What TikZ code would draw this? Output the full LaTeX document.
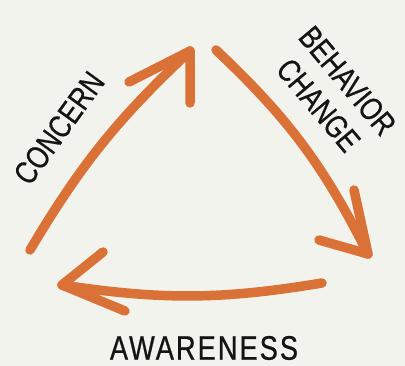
\documentclass[tikz,border=0pt]{standalone}
\usepackage{fontspec}
\newfontfamily\handfont[FakeStretch=0.8,FakeBold=0.6]{Liberation Sans}
\newfontfamily\widehandfont[FakeStretch=0.8,FakeBold=0.6,LetterSpace=6]{Liberation Sans}
\definecolor{marker}{RGB}{218,113,55}
\definecolor{paper}{RGB}{243,243,238}
\begin{document}
\begin{tikzpicture}[x=1pt,y=1pt,
        felt/.style={draw=marker,line width=9.5pt,line cap=round,line join=round},
        word/.style={font=\handfont\fontsize{32}{38}\selectfont,text=black!92,inner sep=0pt,align=center}]
            \fill[paper] (0,0) rectangle (405,366);
            % arrow end points
            \coordinate (cStart) at (30,116);
            \coordinate (cTip) at (190,315);
            \coordinate (cBarbA) at (129,284);
            \coordinate (cBarbB) at (190,263);
            \coordinate (bStart) at (216,316);
            \coordinate (bTip) at (368,112);
            \coordinate (bBarbA) at (354,176);
            \coordinate (bBarbB) at (319,126);
            \coordinate (aStart) at (322,83);
            \coordinate (aTip) at (62,81);
            \coordinate (aBarbA) at (103,114);
            \coordinate (aBarbB) at (125,55);
            \foreach \s/\b in {c/8,b/10,a/9}{
                \draw[felt] (\s Start) to[bend left=\b] (\s Tip);
                \draw[felt] (\s BarbA) -- (\s Tip) -- (\s BarbB);
            }
            \node[word,rotate=54] at (59,238)(concern){CONCERN};
            \node[word,rotate=-50] at (333,273)(behavior){BEHAVIOR\\CHANGE};
            \node[word,font=\widehandfont\fontsize{34}{38}\selectfont] at (204,18)(awareness){AWARENESS};
        \end{tikzpicture}
\end{document}
